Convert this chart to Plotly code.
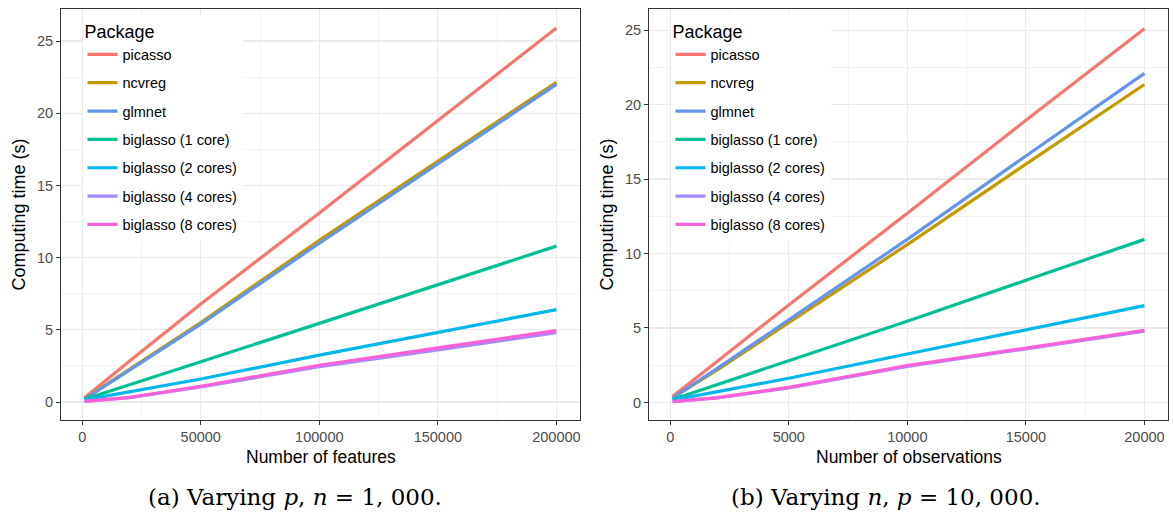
import plotly.graph_objects as go

# ---------------- data ----------------
packages = ["picasso", "ncvreg", "glmnet", "biglasso (1 core)",
            "biglasso (2 cores)", "biglasso (4 cores)", "biglasso (8 cores)"]
colors = ["#F8766D", "#C49A00", "#6495ED", "#00C094", "#00B6EB", "#A58AFF", "#FB61D7"]

# (a) varying p, n = 1,000
features = [1000, 20000, 50000, 100000, 150000, 200000]
p_picasso = [0.30, 2.85, 6.80, 13.10, 19.50, 25.90]
p_ncvreg = [0.25, 2.30, 5.50, 11.20, 16.70, 22.15]
p_glmnet = [0.20, 2.20, 5.40, 11.00, 16.50, 22.00]
p_big1 = [0.20, 1.22, 2.80, 5.45, 8.10, 10.80]
p_big2 = [0.15, 0.72, 1.60, 3.25, 4.80, 6.40]
p_big4 = [0.05, 0.30, 1.05, 2.45, 3.62, 4.80]
p_big8 = [0.05, 0.33, 1.10, 2.55, 3.75, 4.95]

# (b) varying n, p = 10,000
observations = [100, 2000, 5000, 10000, 15000, 20000]
n_picasso = [0.40, 2.80, 6.55, 12.70, 18.95, 25.10]
n_ncvreg = [0.30, 2.20, 5.36, 10.60, 16.00, 21.35]
n_glmnet = [0.30, 2.30, 5.54, 10.95, 16.55, 22.10]
n_big1 = [0.20, 1.20, 2.78, 5.45, 8.20, 10.95]
n_big2 = [0.15, 0.70, 1.62, 3.25, 4.90, 6.50]
n_big4 = [0.05, 0.30, 0.98, 2.42, 3.60, 4.78]
n_big8 = [0.05, 0.32, 1.02, 2.48, 3.65, 4.85]

x_ticks_a = [0, 50000, 100000, 150000, 200000]
x_ticks_b = [0, 5000, 10000, 15000, 20000]
y_ticks = [0, 5, 10, 15, 20, 25]

series_a = [p_picasso, p_ncvreg, p_glmnet, p_big1, p_big2, p_big4, p_big8]
series_b = [n_picasso, n_ncvreg, n_glmnet, n_big1, n_big2, n_big4, n_big8]

# ---------------- layout helpers ----------------
W, H = 1173, 515
def px(x):
    return x / W
def py(y):
    return 1 - y / H

SANS = "Liberation Sans, Arial, Helvetica, sans-serif"
SERIF = "DejaVu Serif, Liberation Serif, serif"

fig = go.Figure()
for name, col, ya in zip(packages, colors, series_a):
    fig.add_trace(go.Scatter(x=features, y=ya, mode="lines", name=name,
                             line=dict(color=col, width=3.2),
                             xaxis="x", yaxis="y", legend="legend",
                             legendgroup=name + "a"))
for name, col, yb in zip(packages, colors, series_b):
    fig.add_trace(go.Scatter(x=observations, y=yb, mode="lines", name=name,
                             line=dict(color=col, width=3.2),
                             xaxis="x2", yaxis="y2", legend="legend2",
                             legendgroup=name + "b"))

top, bottom = 9.3, 420
ydom = [py(bottom), py(top)]

def xax(dom, rng, ticks, minor_dt):
    return dict(domain=dom, range=rng, tickmode="array", tickvals=ticks,
                ticktext=[str(t) for t in ticks],
                showgrid=True, gridcolor="#EBEBEB", gridwidth=1.2,
                minor=dict(dtick=minor_dt, showgrid=True, gridcolor="#EBEBEB",
                           gridwidth=0.6, ticks=""),
                showline=True, linecolor="#333333", linewidth=1, mirror=True,
                ticks="outside", ticklen=4, tickcolor="#333333", tickwidth=1,
                ticklabelstandoff=0,
                tickfont=dict(family=SANS, size=14.5, color="#4D4D4D"),
                zeroline=False, fixedrange=True)

def yax(dom, rng, anchor):
    return dict(domain=dom, range=rng, anchor=anchor, tickmode="array",
                tickvals=y_ticks, ticktext=[str(t) for t in y_ticks],
                showgrid=True, gridcolor="#EBEBEB", gridwidth=1.2,
                minor=dict(dtick=2.5, showgrid=True, gridcolor="#EBEBEB",
                           gridwidth=0.6, ticks=""),
                showline=True, linecolor="#333333", linewidth=1, mirror=True,
                ticks="outside", ticklen=4, tickcolor="#333333", tickwidth=1,
                tickfont=dict(family=SANS, size=14.5, color="#4D4D4D"),
                zeroline=False, fixedrange=True)

xa = xax([px(61), px(580)], [-8950, 209950], x_ticks_a, 25000)
xa["anchor"] = "y"
xb = xax([px(649), px(1168)], [-895, 20995], x_ticks_b, 2500)
xb["anchor"] = "y2"
ya_ = yax(ydom, [-1.24, 27.2], "x")
yb_ = yax(ydom, [-1.18, 26.4], "x2")

def leg(xpix):
    return dict(x=px(xpix), y=py(15), xanchor="left", yanchor="top",
                bgcolor="white", borderwidth=0,
                font=dict(family=SANS, size=14.5, color="black"),
                title=dict(text="Package", font=dict(family=SANS, size=18, color="black")),
                tracegroupgap=6.5, itemwidth=30)

annotations = [
    dict(text="Computing time (s)", x=px(18.5), y=py(215), textangle=-90,
         font=dict(family=SANS, size=18, color="black")),
    dict(text="Computing time (s)", x=px(606.5), y=py(215), textangle=-90,
         font=dict(family=SANS, size=18, color="black")),
    dict(text="Number of features", x=px(320.5), y=py(457),
         font=dict(family=SANS, size=17.5, color="black")),
    dict(text="Number of observations", x=px(908.5), y=py(457),
         font=dict(family=SANS, size=17.5, color="black")),
    dict(text="(a) Varying <i>p</i>, <i>n</i> = 1, 000.", x=px(295), y=py(497),
         font=dict(family=SERIF, size=23, color="black")),
    dict(text="(b) Varying <i>n</i>, <i>p</i> = 10, 000.", x=px(886), y=py(497),
         font=dict(family=SERIF, size=23, color="black")),
]
for a in annotations:
    a.update(xref="paper", yref="paper", showarrow=False,
             xanchor="center", yanchor="middle")

fig.update_layout(
    width=W, height=H, margin=dict(l=0, r=0, t=0, b=0),
    paper_bgcolor="white", plot_bgcolor="white",
    xaxis=xa, yaxis=ya_, xaxis2=xb, yaxis2=yb_,
    legend=leg(82.5), legend2=leg(670.5),
    annotations=annotations, showlegend=True,
)

fig.write_html("out.html", config={"displayModeBar": False, "staticPlot": True},
               post_script="document.body.style.margin='0px';document.body.style.overflow='hidden';")
